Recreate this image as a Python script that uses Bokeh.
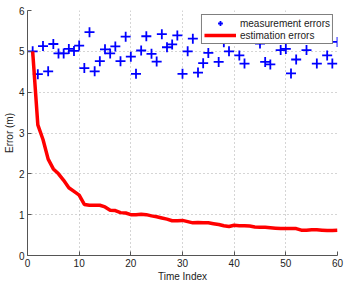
from bokeh.plotting import figure
from bokeh.models import ColumnDataSource, Legend, LegendItem, FixedTicker
from bokeh.embed import file_html
from bokeh.resources import INLINE

# Time index
time_index = list(range(1, 61))

# Measurement errors (blue crosses)
measurement_errors = [
    5.00, 4.44, 5.13, 4.51, 5.18, 4.95, 4.95, 5.06, 5.01, 5.14,
    4.59, 5.47, 4.51, 4.76, 5.05, 4.95, 5.12, 4.76, 5.36, 4.87,
    4.45, 5.02, 5.37, 4.94, 4.75, 5.42, 5.10, 5.17, 5.39, 4.45,
    5.00, 5.31, 4.48, 4.71, 4.96, 5.45, 4.74, 5.22, 5.00, 5.50,
    4.90, 4.70, 5.40, 5.55, 5.19, 4.74, 4.68, 5.45, 5.03, 5.06,
    4.46, 4.80, 5.38, 5.03, 5.50, 4.70, 5.42, 4.90, 4.70, 5.23,
]

# Estimation errors (red line)
estimation_errors = [
    5.00, 3.20, 2.84, 2.36, 2.12, 2.00, 1.84, 1.66, 1.57, 1.48,
    1.25, 1.23, 1.23, 1.23, 1.19, 1.11, 1.10, 1.05, 1.04, 1.00,
    1.00, 1.01, 1.00, 0.97, 0.95, 0.92, 0.89, 0.85, 0.85, 0.86,
    0.83, 0.80, 0.81, 0.80, 0.80, 0.78, 0.76, 0.73, 0.71, 0.74,
    0.73, 0.73, 0.72, 0.70, 0.69, 0.69, 0.68, 0.67, 0.66, 0.66,
    0.66, 0.66, 0.62, 0.62, 0.63, 0.63, 0.62, 0.61, 0.61, 0.62,
]

x_ticks = [0, 10, 20, 30, 40, 50, 60]
y_ticks = [0, 1, 2, 3, 4, 5, 6]

FONT = "Liberation Sans"

src = ColumnDataSource(dict(t=time_index, meas=measurement_errors, est=estimation_errors))

p = figure(width=345, height=284, output_backend="svg", toolbar_location=None,
           x_range=(0, 60), y_range=(0, 6),
           min_border_left=21, min_border_right=8, min_border_top=10, min_border_bottom=26)
p.outline_line_color = None
p.background_fill_color = "white"
p.border_fill_color = "white"

r_meas = p.scatter("t", "meas", source=src, marker="cross", size=10,
                   line_width=1.8, line_color="#0000ff")
r_est = p.line("t", "est", source=src, line_color="#ff0000", line_width=3.5)

for ax in (p.xaxis[0], p.yaxis[0]):
    ax.major_tick_in = 4
    ax.major_tick_out = 0
    ax.minor_tick_line_color = None
    ax.axis_line_color = "#555555"
    ax.major_tick_line_color = "#555555"
    ax.major_label_text_font = FONT
    ax.major_label_text_font_size = "10px"
    ax.major_label_text_color = "#222222"
    ax.axis_label_text_font = FONT
    ax.axis_label_text_font_size = "10px"
    ax.axis_label_text_font_style = "normal"
    ax.axis_label_text_color = "#222222"
    ax.major_label_standoff = 3
    ax.axis_label_standoff = 1

p.xaxis.ticker = FixedTicker(ticks=x_ticks)
p.yaxis.ticker = FixedTicker(ticks=y_ticks)
p.xaxis.axis_label = "Time Index"
p.yaxis.axis_label = "Error (m)"

p.grid.grid_line_color = "#aaaaaa"
p.grid.grid_line_dash = "1 3"
p.grid.grid_line_width = 1

legend = Legend(items=[LegendItem(label="measurement errors", renderers=[r_meas]),
                       LegendItem(label="estimation errors", renderers=[r_est])],
                location="top_right")
legend.label_text_font = FONT
legend.label_text_font_size = "10px"
legend.label_text_color = "#222222"
legend.glyph_width = 32
legend.glyph_height = 12
legend.label_height = 12
legend.label_standoff = 4
legend.padding = 2
legend.spacing = 0
legend.margin = 4
legend.border_line_color = "black"
legend.border_line_width = 1
legend.background_fill_alpha = 1
p.add_layout(legend)

open("out.html", "w").write(file_html(p, INLINE))
